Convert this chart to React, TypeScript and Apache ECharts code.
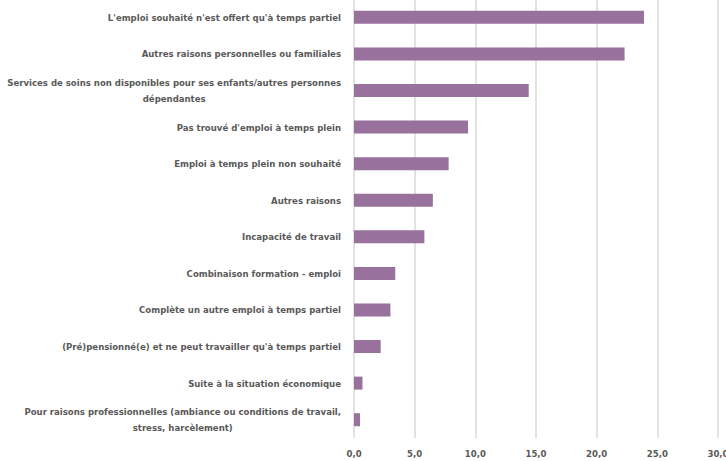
import React, { useEffect, useRef } from "react";
import * as echarts from "echarts";

const categories: string[] = [
  "L'emploi souhaité n'est offert qu'à temps partiel",
  "Autres raisons personnelles ou familiales",
  "Services de soins non disponibles pour ses enfants/autres personnes\ndépendantes",
  "Pas trouvé d'emploi à temps plein",
  "Emploi à temps plein non souhaité",
  "Autres raisons",
  "Incapacité de travail",
  "Combinaison formation - emploi",
  "Complète un autre emploi à temps partiel",
  "(Pré)pensionné(e) et ne peut travailler qu'à temps partiel",
  "Suite à la situation économique",
  "Pour raisons professionnelles (ambiance ou conditions de travail,\nstress, harcèlement)",
];

const values: number[] = [23.9, 22.3, 14.4, 9.4, 7.8, 6.5, 5.8, 3.4, 3.0, 2.2, 0.7, 0.5];

const xMin = 0;
const xMax = 30;
const xStep = 5;

const FONT = "'DejaVu Sans Condensed', sans-serif";
const LABEL_COLOR = "#595959";
const FS = 9.5;

export default function App() {
  const ref = useRef<HTMLDivElement>(null);

  useEffect(() => {
    if (!ref.current) return;
    const chart = echarts.init(ref.current, undefined, { renderer: "svg" });
    chart.setOption({
      animation: false,
      grid: {
        left: 354,
        right: 8,
        top: -1,
        bottom: 23,
        containLabel: false,
        outerBoundsMode: "none",
      },
      xAxis: {
        type: "value",
        min: xMin,
        max: xMax,
        interval: xStep,
        axisLine: { show: false },
        axisTick: { show: false },
        splitLine: { show: true, lineStyle: { color: "#d9d9d9", width: 1.5 } },
        axisLabel: {
          margin: 10,
          color: LABEL_COLOR,
          fontFamily: FONT,
          fontWeight: "bold",
          fontSize: FS,
          formatter: (v: number) => v.toFixed(1).replace(".", ","),
        },
      },
      yAxis: {
        type: "category",
        inverse: true,
        data: categories,
        axisLine: { show: false },
        axisTick: { show: false },
        axisLabel: {
          margin: 13,
          color: LABEL_COLOR,
          fontFamily: FONT,
          fontWeight: "bold",
          fontSize: FS,
          lineHeight: 16,
          formatter: (v: string) =>
            v.indexOf("\n") >= 0
              ? v
                  .split("\n")
                  .map((l) => `{c|${l}}`)
                  .join("\n")
              : v,
          rich: {
            c: {
              align: "center",
              color: LABEL_COLOR,
              fontFamily: FONT,
              fontWeight: "bold",
              fontSize: FS,
              lineHeight: 16,
            },
          },
        },
      },
      series: [
        {
          type: "bar",
          data: values,
          barWidth: 13,
          itemStyle: { color: "#98719c" },
        },
      ],
    });
    return () => chart.dispose();
  }, []);

  return (
    <div
      ref={ref}
      style={{ position: "fixed", left: 0, top: 0, width: 726, height: 461, background: "#fff" }}
    />
  );
}
